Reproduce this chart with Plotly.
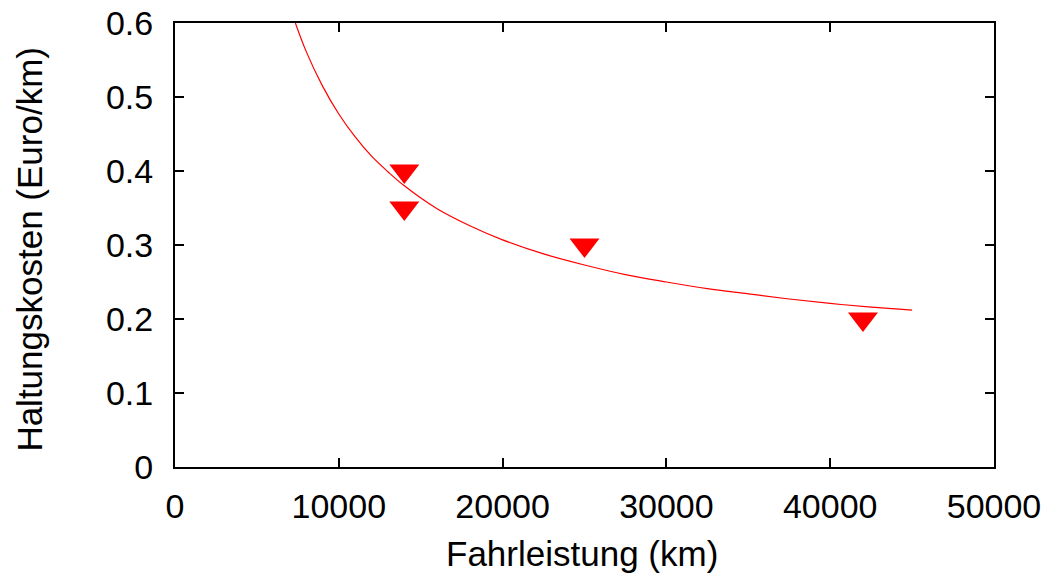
import plotly.graph_objects as go

# Measured data points (Fahrleistung km, Haltungskosten Euro/km)
point_km = [14000, 14000, 25000, 42000]
point_cost = [0.40, 0.35, 0.30, 0.20]

# Fitted curve, values
curve_km = [7350, 8000, 9000, 10000, 11000, 12000, 13000, 14000, 16000, 18000,
            20000, 22500, 25000, 27500, 30000, 32500, 35000, 37500, 40000,
            42500, 45000]
curve_cost = [0.600, 0.562, 0.515, 0.477, 0.446, 0.420, 0.399, 0.380, 0.349,
              0.326, 0.307, 0.288, 0.273, 0.260, 0.250, 0.241, 0.234, 0.227,
              0.221, 0.216, 0.212]

x_ticks = [0, 10000, 20000, 30000, 40000, 50000]
y_ticks = [0, 0.1, 0.2, 0.3, 0.4, 0.5, 0.6]
y_tick_text = ["0", "0.1", "0.2", "0.3", "0.4", "0.5", "0.6"]

FONT = "Liberation Sans, Arial, sans-serif"
FS = 34
FS_TITLE = 35

fig = go.Figure()
fig.add_trace(go.Scatter(
    x=curve_km, y=curve_cost, mode="lines",
    line=dict(color="#ff0000", width=1.2, shape="spline"),
    showlegend=False, hoverinfo="skip",
))
fig.add_trace(go.Scatter(
    x=point_km, y=point_cost, mode="markers",
    marker=dict(symbol="triangle-down", size=26, color="#ff0000",
                line=dict(width=0)),
    showlegend=False,
))

axis_common = dict(
    showgrid=False, zeroline=False, showline=True, linecolor="black",
    linewidth=2, mirror="ticks", ticks="inside", ticklen=9, tickwidth=1.5,
    tickcolor="black", tickfont=dict(family=FONT, size=FS, color="black"),
    automargin=False,
)

fig.update_xaxes(range=[0, 50000], tickvals=x_ticks,
                 ticktext=[str(v) for v in x_ticks], ticklabelstandoff=8,
                 **axis_common)
fig.update_yaxes(range=[0, 0.6], tickvals=y_ticks, ticktext=y_tick_text,
                 ticklabelstandoff=13, **axis_common)

fig.update_layout(
    width=1055, height=578,
    margin=dict(l=175, r=61, t=23, b=111),
    plot_bgcolor="white", paper_bgcolor="white",
    font=dict(family=FONT, color="black"),
    annotations=[
        dict(text="Fahrleistung (km)", xref="paper", yref="paper",
             x=0.497, y=-0.195, xanchor="center", yanchor="middle",
             showarrow=False,
             font=dict(family=FONT, size=FS_TITLE, color="black")),
        dict(text="Haltungskosten (Euro/km)", xref="paper", yref="paper",
             x=-0.1775, y=0.491, xanchor="center", yanchor="middle",
             textangle=-90, showarrow=False,
             font=dict(family=FONT, size=FS_TITLE, color="black")),
    ],
)

fig.write_html("out.html")
